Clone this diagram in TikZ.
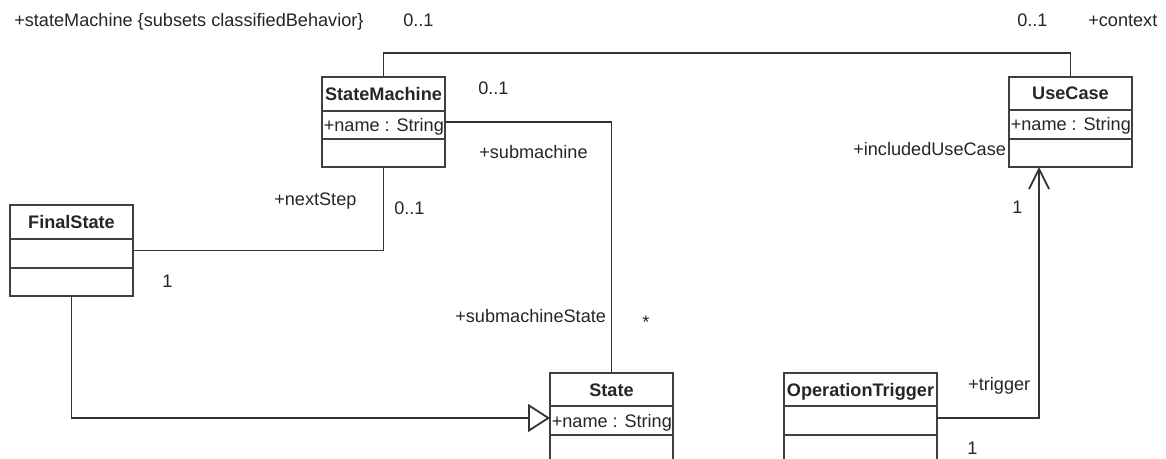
\documentclass[tikz,border=0pt]{standalone}
\usepackage{fontspec}
\setmainfont{Liberation Sans}
\usetikzlibrary{arrows.meta}
\tikzset{
  classbox/.style={draw=black!75, line width=1.5pt, fill=white, inner sep=0pt, outer sep=0pt, anchor=north west},
  classline/.style={draw=black!75, line width=1.5pt},
  assoc/.style={draw=black!80, line width=1.35pt},
  titletext/.style={font=\fontsize{13.6}{15}\selectfont\bfseries, text=black!85, inner sep=0pt, anchor=base},
  attrtext/.style={font=\fontsize{13.6}{15}\selectfont, text=black!85, inner sep=0pt, anchor=base west},
  lbl/.style={font=\fontsize{13.6}{15}\selectfont, text=black!85, inner sep=0pt, anchor=base west},
}
% name, x, y, width, h1, h2, h3, title, attribute
\newcommand\umlclass[9]{%
  \node[classbox, minimum width=#4*0.75pt, minimum height=(#5+#6+#7)*0.75pt] (#1) at (#2,#3) {};
  \draw[classline] (#2,#3+#5) -- ++(#4,0);
  \draw[classline] (#2,#3+#5+#6) -- ++(#4,0);
  \node[titletext] (#1-t) at (#2+#4/2,#3+#5/2+6.5) {#8};
  \node[attrtext] (#1-a) at (#2+1.5,#3+#5+#6/2+6.5) {#9};
}
\begin{document}
\begin{tikzpicture}[x=0.75pt,y=-0.75pt]
\useasboundingbox (0,0) rectangle (1166,459);
\clip (0,0) rectangle (1166,459);
\fill[white] (0,0) rectangle (1166,459);

\umlclass{sm}{322}{77}{123}{34}{28}{28}{StateMachine}{+name : String}
\umlclass{uc}{1009}{77}{123}{33}{29}{28}{UseCase}{+name : String}
\umlclass{fs}{10}{205}{123}{34}{29}{28}{FinalState}{}
\umlclass{st}{550}{373}{123}{33}{29}{60}{State}{+name : String}
\umlclass{ot}{784}{373}{153}{33}{29}{60}{OperationTrigger}{}

% connectors
\coordinate (topbend) at (700,53);
\draw[assoc] (sm.north) |- (topbend) -| (uc.north);
\draw[assoc] (sm.east) -| (st.north);
\draw[assoc] (fs.east) -| (sm.south);
\draw[assoc, -{Triangle[open, length=16.5pt, width=21pt, fill=white]}] (fs.south) |- ([yshift=-45*0.75pt]st.north west);
\draw[assoc, -{Straight Barb[length=15pt, width=15pt]}] ([yshift=-45*0.75pt]ot.north east) -| ([xshift=-31.5*0.75pt]uc.south);

% labels
\node[lbl] (l1) at (14,27) {+stateMachine \{subsets classifiedBehavior\}};
\node[lbl] (l2) at (403,27) {0..1};
\node[lbl] (l3) at (1017,27) {0..1};
\node[lbl] (l4) at (1088,27) {+context};
\node[lbl] (l5) at (478,95) {0..1};
\node[lbl] (l6) at (479,159) {+submachine};
\node[lbl] (l7) at (274,206) {+nextStep};
\node[lbl] (l8) at (394,215) {0..1};
\node[lbl] (l9) at (162,288) {1};
\node[lbl] (l10) at (455,323) {+submachineState};
\node[lbl] (l11) at (642,329) {*};
\node[lbl] (l12) at (853,156) {+includedUseCase};
\node[lbl] (l13) at (1012,214) {1};
\node[lbl] (l14) at (968,390) {+trigger};
\node[lbl] (l15) at (967,454) {1};
\end{tikzpicture}
\end{document}
